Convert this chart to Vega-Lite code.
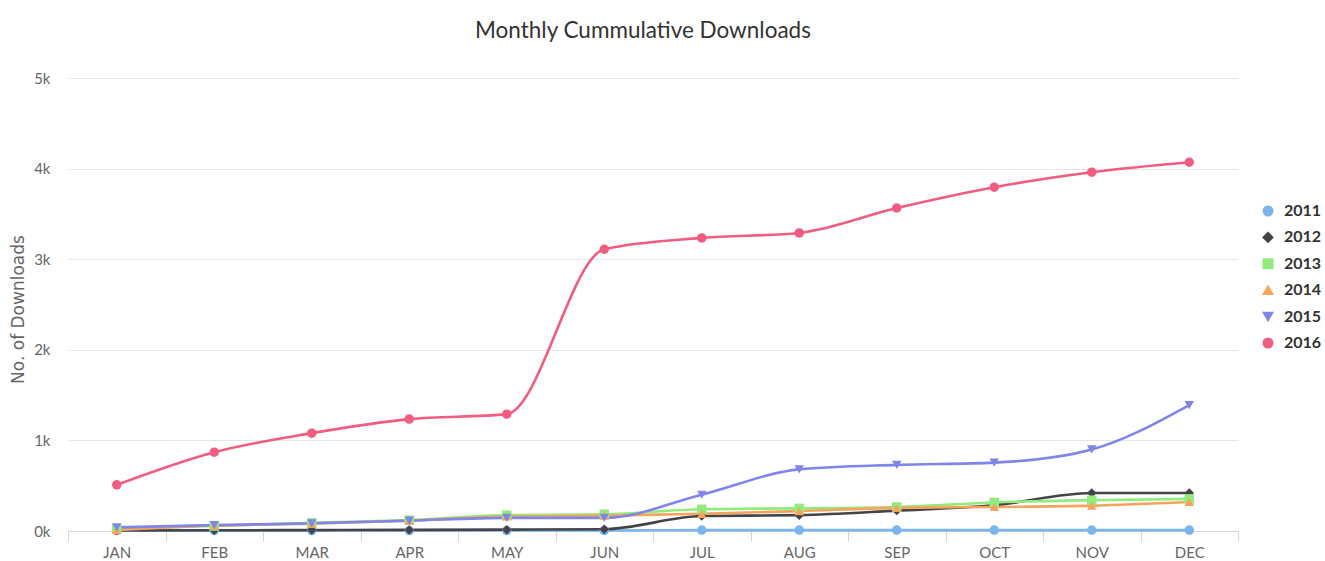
{
  "$schema": "https://vega.github.io/schema/vega-lite/v6.json",
  "autosize": {"type": "none"},
  "width": 1170,
  "height": 453,
  "padding": {"left": 68, "top": 78, "right": 87, "bottom": 30},
  "background": "#ffffff",
  "title": {
    "text": "Monthly Cummulative Downloads",
    "font": "Lato, sans-serif",
    "fontSize": 22.5,
    "fontWeight": "normal",
    "color": "#333333",
    "anchor": "middle",
    "dx": -10,
    "offset": 29
  },
  "config": {
    "view": {"stroke": null},
    "font": "Lato, sans-serif"
  },
  "data": {
    "values": [
      {"month": "JAN", "year": "2011", "downloads": 5},
      {"month": "FEB", "year": "2011", "downloads": 5},
      {"month": "MAR", "year": "2011", "downloads": 5},
      {"month": "APR", "year": "2011", "downloads": 5},
      {"month": "MAY", "year": "2011", "downloads": 5},
      {"month": "JUN", "year": "2011", "downloads": 5},
      {"month": "JUL", "year": "2011", "downloads": 10},
      {"month": "AUG", "year": "2011", "downloads": 10},
      {"month": "SEP", "year": "2011", "downloads": 10},
      {"month": "OCT", "year": "2011", "downloads": 10},
      {"month": "NOV", "year": "2011", "downloads": 10},
      {"month": "DEC", "year": "2011", "downloads": 10},

      {"month": "JAN", "year": "2012", "downloads": 5},
      {"month": "FEB", "year": "2012", "downloads": 8},
      {"month": "MAR", "year": "2012", "downloads": 10},
      {"month": "APR", "year": "2012", "downloads": 12},
      {"month": "MAY", "year": "2012", "downloads": 15},
      {"month": "JUN", "year": "2012", "downloads": 20},
      {"month": "JUL", "year": "2012", "downloads": 165},
      {"month": "AUG", "year": "2012", "downloads": 175},
      {"month": "SEP", "year": "2012", "downloads": 225},
      {"month": "OCT", "year": "2012", "downloads": 285},
      {"month": "NOV", "year": "2012", "downloads": 420},
      {"month": "DEC", "year": "2012", "downloads": 420},

      {"month": "JAN", "year": "2013", "downloads": 25},
      {"month": "FEB", "year": "2013", "downloads": 55},
      {"month": "MAR", "year": "2013", "downloads": 90},
      {"month": "APR", "year": "2013", "downloads": 120},
      {"month": "MAY", "year": "2013", "downloads": 175},
      {"month": "JUN", "year": "2013", "downloads": 185},
      {"month": "JUL", "year": "2013", "downloads": 240},
      {"month": "AUG", "year": "2013", "downloads": 250},
      {"month": "SEP", "year": "2013", "downloads": 265},
      {"month": "OCT", "year": "2013", "downloads": 315},
      {"month": "NOV", "year": "2013", "downloads": 340},
      {"month": "DEC", "year": "2013", "downloads": 355},

      {"month": "JAN", "year": "2014", "downloads": 10},
      {"month": "FEB", "year": "2014", "downloads": 60},
      {"month": "MAR", "year": "2014", "downloads": 80},
      {"month": "APR", "year": "2014", "downloads": 115},
      {"month": "MAY", "year": "2014", "downloads": 160},
      {"month": "JUN", "year": "2014", "downloads": 170},
      {"month": "JUL", "year": "2014", "downloads": 190},
      {"month": "AUG", "year": "2014", "downloads": 220},
      {"month": "SEP", "year": "2014", "downloads": 255},
      {"month": "OCT", "year": "2014", "downloads": 265},
      {"month": "NOV", "year": "2014", "downloads": 280},
      {"month": "DEC", "year": "2014", "downloads": 320},

      {"month": "JAN", "year": "2015", "downloads": 40},
      {"month": "FEB", "year": "2015", "downloads": 65},
      {"month": "MAR", "year": "2015", "downloads": 85},
      {"month": "APR", "year": "2015", "downloads": 115},
      {"month": "MAY", "year": "2015", "downloads": 145},
      {"month": "JUN", "year": "2015", "downloads": 145},
      {"month": "JUL", "year": "2015", "downloads": 400},
      {"month": "AUG", "year": "2015", "downloads": 680},
      {"month": "SEP", "year": "2015", "downloads": 730},
      {"month": "OCT", "year": "2015", "downloads": 755},
      {"month": "NOV", "year": "2015", "downloads": 900},
      {"month": "DEC", "year": "2015", "downloads": 1390},

      {"month": "JAN", "year": "2016", "downloads": 510},
      {"month": "FEB", "year": "2016", "downloads": 870},
      {"month": "MAR", "year": "2016", "downloads": 1080},
      {"month": "APR", "year": "2016", "downloads": 1235},
      {"month": "MAY", "year": "2016", "downloads": 1290},
      {"month": "JUN", "year": "2016", "downloads": 3110},
      {"month": "JUL", "year": "2016", "downloads": 3235},
      {"month": "AUG", "year": "2016", "downloads": 3290},
      {"month": "SEP", "year": "2016", "downloads": 3565},
      {"month": "OCT", "year": "2016", "downloads": 3795},
      {"month": "NOV", "year": "2016", "downloads": 3960},
      {"month": "DEC", "year": "2016", "downloads": 4070}
    ]
  },
  "encoding": {
    "x": {
      "field": "month",
      "type": "ordinal",
      "sort": ["JAN", "FEB", "MAR", "APR", "MAY", "JUN", "JUL", "AUG", "SEP", "OCT", "NOV", "DEC"],
      "scale": {"type": "band", "paddingInner": 0, "paddingOuter": 0},
      "axis": {
        "title": null,
        "labelAngle": 0,
        "labelFontSize": 15,
        "labelColor": "#666666",
        "labelPadding": 4,
        "labelBaseline": "top",
        "domainColor": "#ccd6eb",
        "domainWidth": 1,
        "tickColor": "#ccd6eb",
        "tickSize": 10,
        "tickBand": "extent",
        "grid": false
      }
    },
    "y": {
      "field": "downloads",
      "type": "quantitative",
      "scale": {"domain": [0, 5000], "nice": false},
      "axis": {
        "title": "No. of Downloads",
        "titleFont": "DejaVu Sans, sans-serif",
        "titleFontSize": 17,
        "titleFontWeight": "normal",
        "titleColor": "#666666",
        "titleX": -50,
        "titleY": 231,
        "titleAngle": -90,
        "titleAlign": "center",
        "titleBaseline": "middle",
        "values": [0, 1000, 2000, 3000, 4000, 5000],
        "labelExpr": "(datum.value / 1000) + 'k'",
        "labelFontSize": 15,
        "labelColor": "#666666",
        "labelPadding": 18,
        "domain": false,
        "ticks": false,
        "grid": true,
        "gridColor": "#e6e6e6",
        "gridWidth": 1
      }
    },
    "color": {
      "field": "year",
      "type": "nominal",
      "scale": {
        "domain": ["2011", "2012", "2013", "2014", "2015", "2016"],
        "range": ["#7cb5ec", "#434348", "#90ed7d", "#f7a35c", "#8085e9", "#f15c80"]
      },
      "legend": {
        "title": null,
        "orient": "none",
        "legendX": 1192,
        "legendY": 125,
        "labelFontSize": 16,
        "labelFontWeight": "bold",
        "labelColor": "#333333",
        "symbolSize": 90,
        "rowPadding": 10.4,
        "labelOffset": 8
      }
    }
  },
  "layer": [
    {
      "mark": {"type": "line", "interpolate": "monotone", "strokeWidth": 2.6}
    },
    {
      "mark": {"type": "point", "filled": true, "opacity": 1, "size": 90},
      "encoding": {
        "shape": {
          "field": "year",
          "type": "nominal",
          "scale": {
            "domain": ["2011", "2012", "2013", "2014", "2015", "2016"],
            "range": ["circle", "diamond", "square", "triangle-up", "triangle-down", "circle"]
          }
        }
      }
    }
  ]
}
